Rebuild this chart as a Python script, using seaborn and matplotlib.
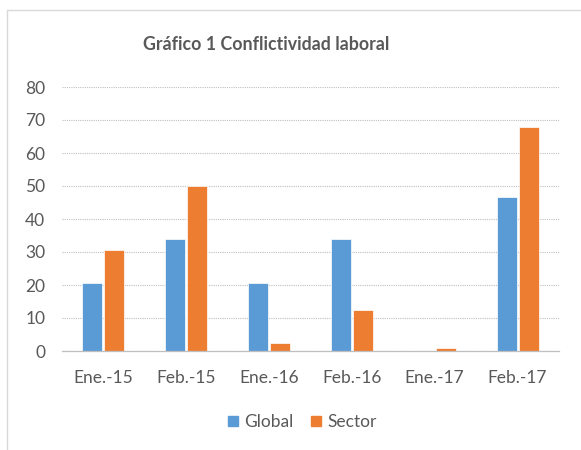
import pandas as pd
import matplotlib.pyplot as plt
import seaborn as sns
from matplotlib.lines import Line2D

# Datos
periodos = ["Ene.-15", "Feb.-15", "Ene.-16", "Feb.-16", "Ene.-17", "Feb.-17"]
global_vals = [20.5, 34.0, 20.5, 34.0, 0.0, 46.6]
sector_vals = [30.6, 50.0, 2.3, 12.3, 0.8, 68.0]
series = ["Global", "Sector"]
colores = ["#5B9BD5", "#ED7D31"]

df = pd.DataFrame({
    "Periodo": periodos * 2,
    "Serie": ["Global"] * len(periodos) + ["Sector"] * len(periodos),
    "Valor": global_vals + sector_vals,
})

sns.set_style("white")
plt.rcParams["font.family"] = ["Lato", "DejaVu Sans"]
gris = "#595959"

fig = plt.figure(figsize=(5.81, 4.50), dpi=100)
ax = fig.add_axes([62 / 581, 1 - 351 / 450, (559 - 62) / 581, (351 - 87) / 450])

sns.barplot(data=df, x="Periodo", y="Valor", hue="Serie", order=periodos,
            hue_order=series, palette=colores, width=0.53, gap=0.09,
            edgecolor="white", linewidth=0.5, saturation=1, ax=ax)

ax.set_ylim(0, 80)
ax.set_xlim(-0.5, len(periodos) - 0.5)
ax.set_yticks(range(0, 81, 10))
ax.yaxis.grid(True, linestyle=(0, (1, 1)), color="#BFBFBF", linewidth=0.8)
ax.set_axisbelow(True)
for s in ["top", "right", "left"]:
    ax.spines[s].set_visible(False)
ax.spines["bottom"].set_color("#BFBFBF")
ax.spines["bottom"].set_linewidth(0.9)

ax.set_xticks([i - 0.5 for i in range(len(periodos) + 1)], minor=True)
ax.tick_params(axis="x", which="minor", length=5, color="#BFBFBF", width=0.9)
ax.tick_params(axis="x", which="major", length=0, pad=14, labelsize=12.5, labelcolor=gris)
ax.tick_params(axis="y", length=0, pad=12, labelsize=12.5, labelcolor=gris)
ax.set_xlabel("")
ax.set_ylabel("")

ax.get_legend().remove()
handles = [Line2D([], [], marker="s", linestyle="", markersize=7.5,
                  markerfacecolor=c, markeredgecolor=c) for c in colores]
fig.legend(handles, series, loc="center", bbox_to_anchor=(302 / 581, 1 - 422 / 450),
           ncol=2, frameon=False, fontsize=12.5, labelcolor=gris,
           handlelength=0.6, handletextpad=0.35, columnspacing=1.0)

fig.text(266 / 581, 1 - 44 / 450, "Gráfico 1 Conflictividad laboral",
         ha="center", va="center", fontsize=12.8, fontweight="bold", color=gris)

# marco del grafico
fig.add_artist(Line2D([7 / 581, 7 / 581], [0, 1 - 10 / 450], transform=fig.transFigure,
                      color="#D9D9D9", linewidth=1))
fig.add_artist(Line2D([7 / 581, 1], [1 - 10 / 450, 1 - 10 / 450], transform=fig.transFigure,
                      color="#D9D9D9", linewidth=1))

fig.savefig("out.png", dpi=100, facecolor="white")
